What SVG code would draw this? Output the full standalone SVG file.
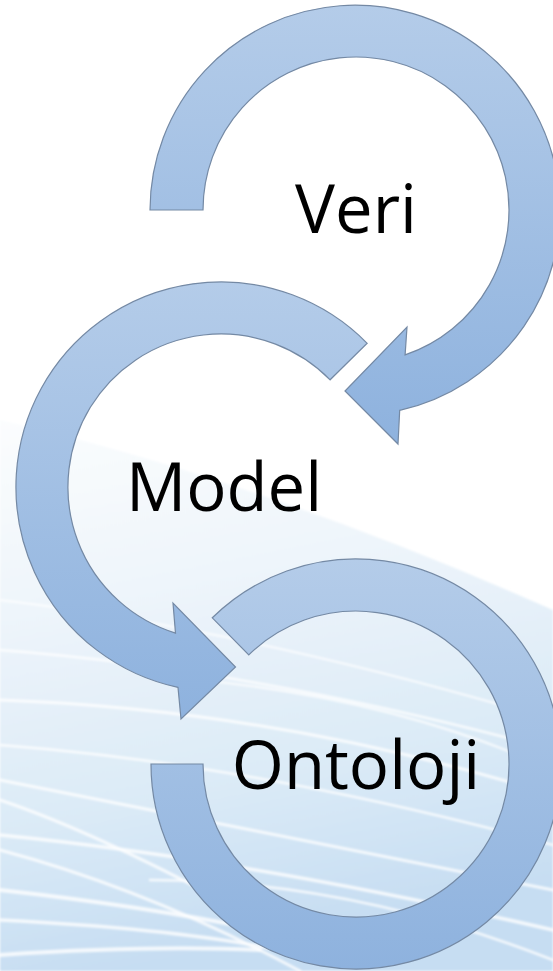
<svg xmlns="http://www.w3.org/2000/svg" width="553" height="971" viewBox="0 0 553 971">
<defs>
<linearGradient id="arrowFill" x1="0" y1="0" x2="0" y2="1">
<stop offset="0" stop-color="#b4cce9"/>
<stop offset="1" stop-color="#8eb2de"/>
</linearGradient>
<linearGradient id="bgFill" x1="0" y1="0" x2="0.2" y2="1">
<stop offset="0" stop-color="#fbfdfe"/>
<stop offset="0.3" stop-color="#f0f6fb"/>
<stop offset="0.7" stop-color="#dcebf7"/>
<stop offset="1" stop-color="#c6ddf2"/>
</linearGradient>
<filter id="soft" x="-5%" y="-5%" width="110%" height="110%">
<feGaussianBlur stdDeviation="1.2"/>
</filter>
<style>
.arrow{fill:url(#arrowFill);stroke:#7489a4;stroke-width:1.2;stroke-linejoin:miter}
.label{font-family:"Open Sans","Noto Sans","Liberation Sans",sans-serif;font-size:67px;fill:#000;text-anchor:middle}
.streak{fill:none;stroke:#ffffff;stroke-linecap:round}
</style>
</defs>
<g id="background">
<rect x="0" y="0" width="553" height="971" fill="#ffffff"/>
<path d="M0,420 Q260,480 553,610 L553,971 L0,971 Z" fill="url(#bgFill)" filter="url(#soft)"/>
<g class="streak" stroke-opacity="0.8" filter="url(#soft)">
<path d="M0,600 Q250,630 553,720" stroke-width="2"/>
<path d="M0,650 Q260,670 553,750" stroke-width="2.5"/>
<path d="M0,700 Q280,710 553,795" stroke-width="3"/>
<path d="M0,745 Q260,765 553,845" stroke-width="2.5"/>
<path d="M0,780 Q200,820 553,890" stroke-width="3"/>
<path d="M0,800 Q120,840 330,960" stroke-width="3"/>
<path d="M0,835 Q250,860 553,930" stroke-width="3.5"/>
<path d="M0,850 Q150,890 300,971" stroke-width="3"/>
<path d="M0,890 Q180,910 330,945" stroke-width="4"/>
<path d="M0,920 Q200,930 300,955" stroke-width="3.5"/>
<path d="M0,955 Q150,945 260,950" stroke-width="4"/>
<path d="M150,880 Q350,880 553,960" stroke-width="2.5"/>
<path d="M200,680 Q400,700 553,770" stroke-width="2"/>
</g>
</g>
<g id="connectors">
<path id="arrow-veri" class="arrow" d="M150,210 A205,205 0 1 1 399.7,410.3 L398,444 L345,391 L407,327 L405.1,354.9 A153,153 0 1 0 203,210 Z"/>
<path id="arrow-model" class="arrow" d="M367.2,343.3 A205,205 0 1 0 178,687.4 L181,719 L235.5,667 L173,603 L175.5,633.1 A153,153 0 1 1 330.1,379.8 Z"/>
<path id="arrow-ontoloji" class="arrow" d="M212.3,617.8 A205,205 0 1 1 151,764 L203,764 A153,153 0 1 0 248.8,654.9 Z"/>
</g>
<g id="node-veri"><text class="label" x="356" y="233">Veri</text></g>
<g id="node-model"><text class="label" x="224" y="511">Model</text></g>
<g id="node-ontoloji"><text class="label" x="356" y="789">Ontoloji</text></g>
</svg>
